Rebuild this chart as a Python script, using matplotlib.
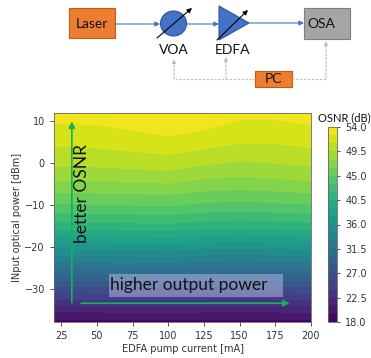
import numpy as np
import matplotlib
matplotlib.use("Agg")
import matplotlib.pyplot as plt
from matplotlib.patches import Rectangle, Ellipse, Polygon, FancyArrowPatch

# ---- data ----
pump_current = [20, 50, 75, 100, 125, 150, 175, 200]          # mA
input_power = [-38, -35, -30, -25, -20, -15, -10, -5, 0, 5, 10, 12]  # dBm
osnr = [
    [19.0, 19.0, 19.0, 19.0, 19.0, 19.0, 19.0, 19.0],
    [21.5, 21.5, 21.6, 21.6, 21.5, 21.5, 21.5, 21.6],
    [26.5, 26.6, 26.6, 26.7, 26.5, 26.4, 26.5, 26.6],
    [31.5, 31.6, 31.7, 31.8, 31.5, 31.4, 31.5, 31.6],
    [36.5, 36.6, 36.7, 36.8, 36.5, 36.3, 36.5, 36.6],
    [41.3, 41.4, 41.5, 41.6, 41.2, 41.0, 41.2, 41.4],
    [44.8, 44.9, 45.0, 45.1, 44.7, 44.5, 44.7, 44.9],
    [47.6, 47.7, 47.8, 47.9, 47.4, 47.2, 47.4, 47.7],
    [49.8, 49.9, 50.1, 50.3, 49.7, 49.3, 49.5, 49.8],
    [51.3, 51.4, 51.7, 52.0, 51.6, 51.1, 51.1, 51.4],
    [52.6, 52.7, 53.1, 53.6, 53.1, 52.4, 52.4, 52.7],
    [53.4, 53.4, 53.6, 53.9, 53.6, 52.9, 53.0, 53.5],
]
cbar_ticks = [18.0, 22.5, 27.0, 31.5, 36.0, 40.5, 45.0, 49.5, 54.0]
x_ticks = [25, 50, 75, 100, 125, 150, 175, 200]
y_ticks = [-30, -20, -10, 0, 10]

W, H = 371, 358
fig = plt.figure(figsize=(W / 100, H / 100), dpi=100)

# ---- setup diagram (pixel coordinates overlay) ----
dia = fig.add_axes([0, 0, 1, 1])
dia.set_xlim(0, W)
dia.set_ylim(H, 0)
dia.axis("off")

orange = "#ED7D31"
blue = "#4472C4"
dfont = dict(family=["Lato", "DejaVu Sans"], fontsize=10, color="#111111")

dia.add_patch(Rectangle((69, 8), 46, 30, facecolor=orange, edgecolor="#c55a11", lw=0.8))
dia.text(92, 24, "Laser", ha="center", va="center", **dfont)
dia.add_patch(Rectangle((304, 8), 46, 31, facecolor="#A5A5A5", edgecolor="#7f7f7f", lw=0.8))
dia.text(321, 24.5, "OSA", ha="center", va="center", **dfont)
dia.add_patch(Rectangle((255, 71), 37, 16, facecolor=orange, edgecolor="#c55a11", lw=0.8))
dia.text(273.5, 79, "PC", ha="center", va="center", **dfont)

dia.add_patch(Ellipse((173.5, 23.5), 26, 25, facecolor=blue, edgecolor="#2f5597", lw=0.8))
dia.add_patch(Polygon([(219, 6), (219, 40), (249, 23)], closed=True,
                      facecolor=blue, edgecolor="#2f5597", lw=0.8))
dia.text(173.5, 50, "VOA", ha="center", va="center", **dfont)
dia.text(233, 50, "EDFA", ha="center", va="center", **dfont)

def arr(p0, p1, color, lw=0.8, ls="-", ms=7):
    dia.add_patch(FancyArrowPatch(p0, p1, arrowstyle="-|>", mutation_scale=ms,
                                  color=color, lw=lw, linestyle=ls, shrinkA=0, shrinkB=0))

arr((115, 24), (160, 24), blue)
arr((187, 24), (219, 24), blue)
arr((249, 23), (304, 23), blue)
arr((157, 38), (192, 8), "black")
arr((217, 40), (248, 10), "black")

grey = "#bdbdbd"
dia.plot([255, 174], [79, 79], color=grey, lw=0.8, ls=(0, (2, 1.5)))
dia.plot([292, 326], [79, 79], color=grey, lw=0.8, ls=(0, (2, 1.5)))
arr((174, 79), (174, 59), grey, ls=(0, (2, 1.5)), ms=6)
arr((226, 79), (226, 57), grey, ls=(0, (2, 1.5)), ms=6)
arr((326, 79), (326, 41), grey, ls=(0, (2, 1.5)), ms=6)

# ---- contour plot ----
ax = fig.add_axes([54 / W, (H - 322) / H, 257 / W, 209 / H])
levels = np.linspace(18, 54, 25)
cf = ax.contourf(pump_current, input_power, np.array(osnr), levels=levels, cmap="viridis")
ax.set_xlim(20, 200)
ax.set_ylim(-38, 12)
ax.set_xticks(x_ticks)
ax.set_yticks(y_ticks)
ax.tick_params(labelsize=7, colors="#333333", length=3, width=0.6)
for s in ax.spines.values():
    s.set_linewidth(0.6)
    s.set_color("#666666")
ax.set_xlabel("EDFA pump current [mA]", fontsize=7, color="#333333", labelpad=2)
ax.set_ylabel("INput optical power [dBm]", fontsize=7, color="#333333", labelpad=2)

green = "#13b35a"
ax.annotate("", xy=(32.5, 10), xytext=(32.5, -33.3),
            arrowprops=dict(arrowstyle="-|>", color=green, lw=1.2, mutation_scale=9,
                            shrinkA=0, shrinkB=0))
ax.annotate("", xy=(185, -33.5), xytext=(39, -33.5),
            arrowprops=dict(arrowstyle="-|>", color=green, lw=1.2, mutation_scale=9,
                            shrinkA=0, shrinkB=0))
afont = dict(family=["Lato", "DejaVu Sans"], fontsize=12.5, color="#111111")
ax.text(39.5, -19, "better OSNR", rotation=90, ha="center", va="bottom", **afont)
ax.add_patch(Rectangle((58.5, -31.9), 122, 5.3, facecolor="#c8c8f0", alpha=0.45,
                       edgecolor="none"))
ax.text(59.5, -29.2, "higher output power", ha="left", va="center", **afont)

# ---- colorbar ----
cax = fig.add_axes([328 / W, (H - 322) / H, 9 / W, 195 / H])
cb = fig.colorbar(cf, cax=cax, ticks=cbar_ticks)
cb.ax.set_yticklabels([f"{t:.1f}" for t in cbar_ticks])
cb.ax.tick_params(labelsize=7, colors="#333333", length=2.5, width=0.6)
cb.outline.set_linewidth(0.6)
cb.outline.set_edgecolor("#666666")
fig.text(344 / W, 1 - 118 / H, "OSNR (dB)", ha="center", va="center",
         family=["Lato", "DejaVu Sans"], fontsize=8, color="#111111")

fig.savefig("out.png", dpi=100)
